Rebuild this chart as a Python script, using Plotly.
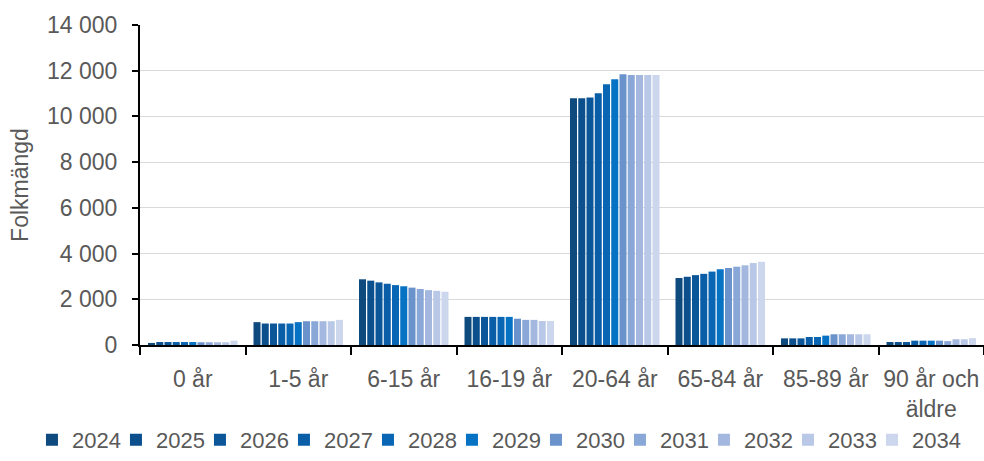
import plotly.graph_objects as go

categories = ["0 år", "1-5 år", "6-15 år", "16-19 år", "20-64 år", "65-84 år", "85-89 år", "90 år och<br>äldre"]
years = ["2024", "2025", "2026", "2027", "2028", "2029", "2030", "2031", "2032", "2033", "2034"]

# values per year, in category order
v2024 = [90, 1000, 2875, 1230, 10790, 2930, 290, 130]
v2025 = [130, 940, 2815, 1230, 10790, 2985, 290, 130]
v2026 = [130, 940, 2740, 1230, 10830, 3057, 290, 130]
v2027 = [130, 940, 2680, 1230, 11010, 3113, 350, 190]
v2028 = [130, 940, 2620, 1230, 11410, 3212, 350, 190]
v2029 = [130, 1000, 2570, 1230, 11630, 3314, 410, 190]
v2030 = [120, 1040, 2510, 1150, 11850, 3370, 470, 190]
v2031 = [120, 1040, 2450, 1100, 11810, 3426, 470, 170]
v2032 = [120, 1040, 2400, 1100, 11810, 3486, 470, 250]
v2033 = [120, 1040, 2370, 1050, 11810, 3585, 470, 250]
v2034 = [190, 1100, 2330, 1050, 11810, 3640, 470, 300]

series = [v2024, v2025, v2026, v2027, v2028, v2029, v2030, v2031, v2032, v2033, v2034]
colors = ["#0E4A7E", "#0B4F8C", "#0A5699", "#0A5EA8", "#0866B5", "#0672C4",
          "#6A93CC", "#8AA8D7", "#A4B8DF", "#B8C8E6", "#CCD6EC"]

fig = go.Figure()
for i, (yr, vals, c) in enumerate(zip(years, series, colors)):
    fig.add_trace(go.Bar(name=yr, x=categories, y=vals,
                         marker=dict(color=c, line=dict(width=0)),
                         legendwidth=(55 if i == len(years) - 1 else None)))

font_family = "Liberation Sans, Arial, sans-serif"
FS = 23
fig.update_layout(
    width=984, height=461,
    barmode="group", bargap=0.14, bargroupgap=0.15,
    plot_bgcolor="white", paper_bgcolor="white",
    margin=dict(l=140, r=0, t=25, b=116, autoexpand=False),
    font=dict(family=font_family, size=FS, color="#595959"),
    legend=dict(orientation="h", x=-0.128, xanchor="left",
                y=-0.362, yanchor="bottom",
                font=dict(size=22, color="#595959"),
                entrywidth=39, itemwidth=30, traceorder="normal"),
    showlegend=True,
    separators=", ",
)
fig.update_xaxes(
    type="category", tickson="boundaries", ticks="outside", ticklen=8,
    tickcolor="black", tickwidth=2, showline=True, linecolor="black", linewidth=2,
    showgrid=False, tickfont=dict(size=FS, color="#595959"), automargin=False,
    ticklabelstandoff=12, tickangle=0,
)
fig.update_yaxes(
    range=[0, 14000], dtick=2000, tickformat=",d",
    ticks="outside", ticklen=6, tickcolor="black", tickwidth=2,
    showline=True, linecolor="black", linewidth=2,
    showgrid=True, gridcolor="#D9D9D9", gridwidth=1,
    title=dict(text="Folkmängd", font=dict(size=FS, color="#595959"), standoff=12),
    tickfont=dict(size=FS, color="#595959"), zeroline=False, automargin=False,
    ticklabelstandoff=10,
)
fig.write_html(
    "out.html",
    config={"displayModeBar": False},
    post_script="document.body.style.margin='0';document.body.style.overflow='hidden';",
)
